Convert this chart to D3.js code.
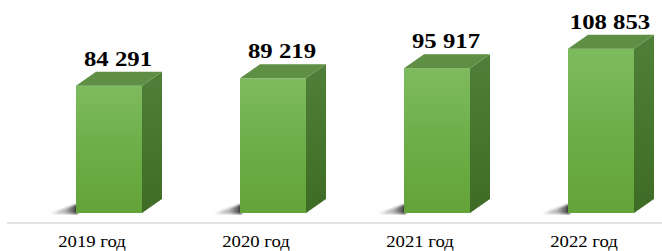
<!DOCTYPE html>
<html>
<head>
<meta charset="utf-8">
<script src="https://cdn.jsdelivr.net/npm/d3@7"></script>
<style>
  body { margin: 0; background: #fff; }
  svg { display: block; }
  text { font-family: "Times New Roman", "Liberation Serif", Times, serif; }
</style>
</head>
<body>
<div id="chart"></div>
<script>
var years = ["2019 год", "2020 год", "2021 год", "2022 год"];
var values = [84291, 89219, 95917, 108853];

var width = 662, height = 251;
var floorY = 213;   // bottom of the front faces
var depthX = 20, depthY = 14, frontW = 66;

var svg = d3.select("#chart").append("svg")
    .attr("width", width)
    .attr("height", height);

var defs = svg.append("defs");
function grad(id, x2, y2, stops) {
    var g = defs.append("linearGradient").attr("id", id)
        .attr("x1", 0).attr("y1", 0).attr("x2", x2).attr("y2", y2);
    stops.forEach(function (s) {
        g.append("stop").attr("offset", s[0]).attr("stop-color", s[1]).attr("stop-opacity", s[2] == null ? 1 : s[2]);
    });
}
grad("front", 0, 1, [[0, "#7ebb5f"], [0.5, "#6dae48"], [1, "#63a338"]]);
grad("side", 0, 1, [[0, "#4f7f38"], [1, "#3e6c26"]]);
grad("shadow", 1, 0, [[0, "#000", 0], [0.6, "#222", 0.35], [1, "#000", 0.85]]);
defs.append("filter").attr("id", "blur").append("feGaussianBlur").attr("stdDeviation", 1.2);

var x = d3.scaleBand().domain(years).range([10, 666]);
var y = d3.scaleLinear().domain([0, 100000]).range([floorY, floorY - 151]);
var fmt = function (v) { return d3.format(",")(v).replace(/,/g, " "); };

// floor line
svg.append("line")
    .attr("x1", 7).attr("x2", width)
    .attr("y1", 223).attr("y2", 223)
    .attr("stroke", "#d9d9d9").attr("stroke-width", 1.5);

var bars = svg.selectAll("g.bar").data(values).enter().append("g").attr("class", "bar");

bars.each(function (v, i) {
    var g = d3.select(this);
    var x0 = x(years[i]) + 66, x1 = x0 + frontW, top = y(v);

    // shadow on floor to the left
    g.append("path")
        .attr("d", d3.line()([[x0 + 2, floorY + 1], [x0 - 28, floorY + 1], [x0 + 2, floorY - 9]]) + "Z")
        .attr("fill", "url(#shadow)")
        .attr("filter", "url(#blur)");
    g.append("line")
        .attr("x1", x0).attr("x2", x1 + 4).attr("y1", floorY + 1).attr("y2", floorY + 1)
        .attr("stroke", "#777").attr("stroke-opacity", 0.45).attr("stroke-width", 2)
        .attr("filter", "url(#blur)");

    // front
    g.append("rect")
        .attr("x", x0).attr("y", top)
        .attr("width", frontW).attr("height", floorY - top)
        .attr("fill", "url(#front)");
    // side
    g.append("path")
        .attr("d", d3.line()([[x1, top], [x1 + depthX, top - depthY], [x1 + depthX, floorY - depthY], [x1, floorY]]) + "Z")
        .attr("fill", "url(#side)");
    // top
    g.append("path")
        .attr("d", d3.line()([[x0, top], [x0 + depthX, top - depthY], [x1 + depthX, top - depthY], [x1, top]]) + "Z")
        .attr("fill", "#5f8e45");

    // value label (stretched wide like the source)
    var lx = x0 + 42, ly = top - depthY - 6;
    g.append("text")
        .attr("transform", "translate(" + lx + "," + ly + ") scale(1.18,1)")
        .attr("text-anchor", "middle")
        .attr("font-weight", "bold")
        .attr("font-size", 21)
        .attr("fill", "#000")
        .text(fmt(v));
});

// category labels
svg.selectAll("text.cat").data(years).enter().append("text")
    .attr("class", "cat")
    .attr("transform", function (d) {
        return "translate(" + (x(d) + x.bandwidth() / 2) + ",247) scale(1.17,1)";
    })
    .attr("text-anchor", "middle")
    .attr("font-size", 16)
    .attr("fill", "#000")
    .text(function (d) { return d; });
</script>
</body>
</html>
